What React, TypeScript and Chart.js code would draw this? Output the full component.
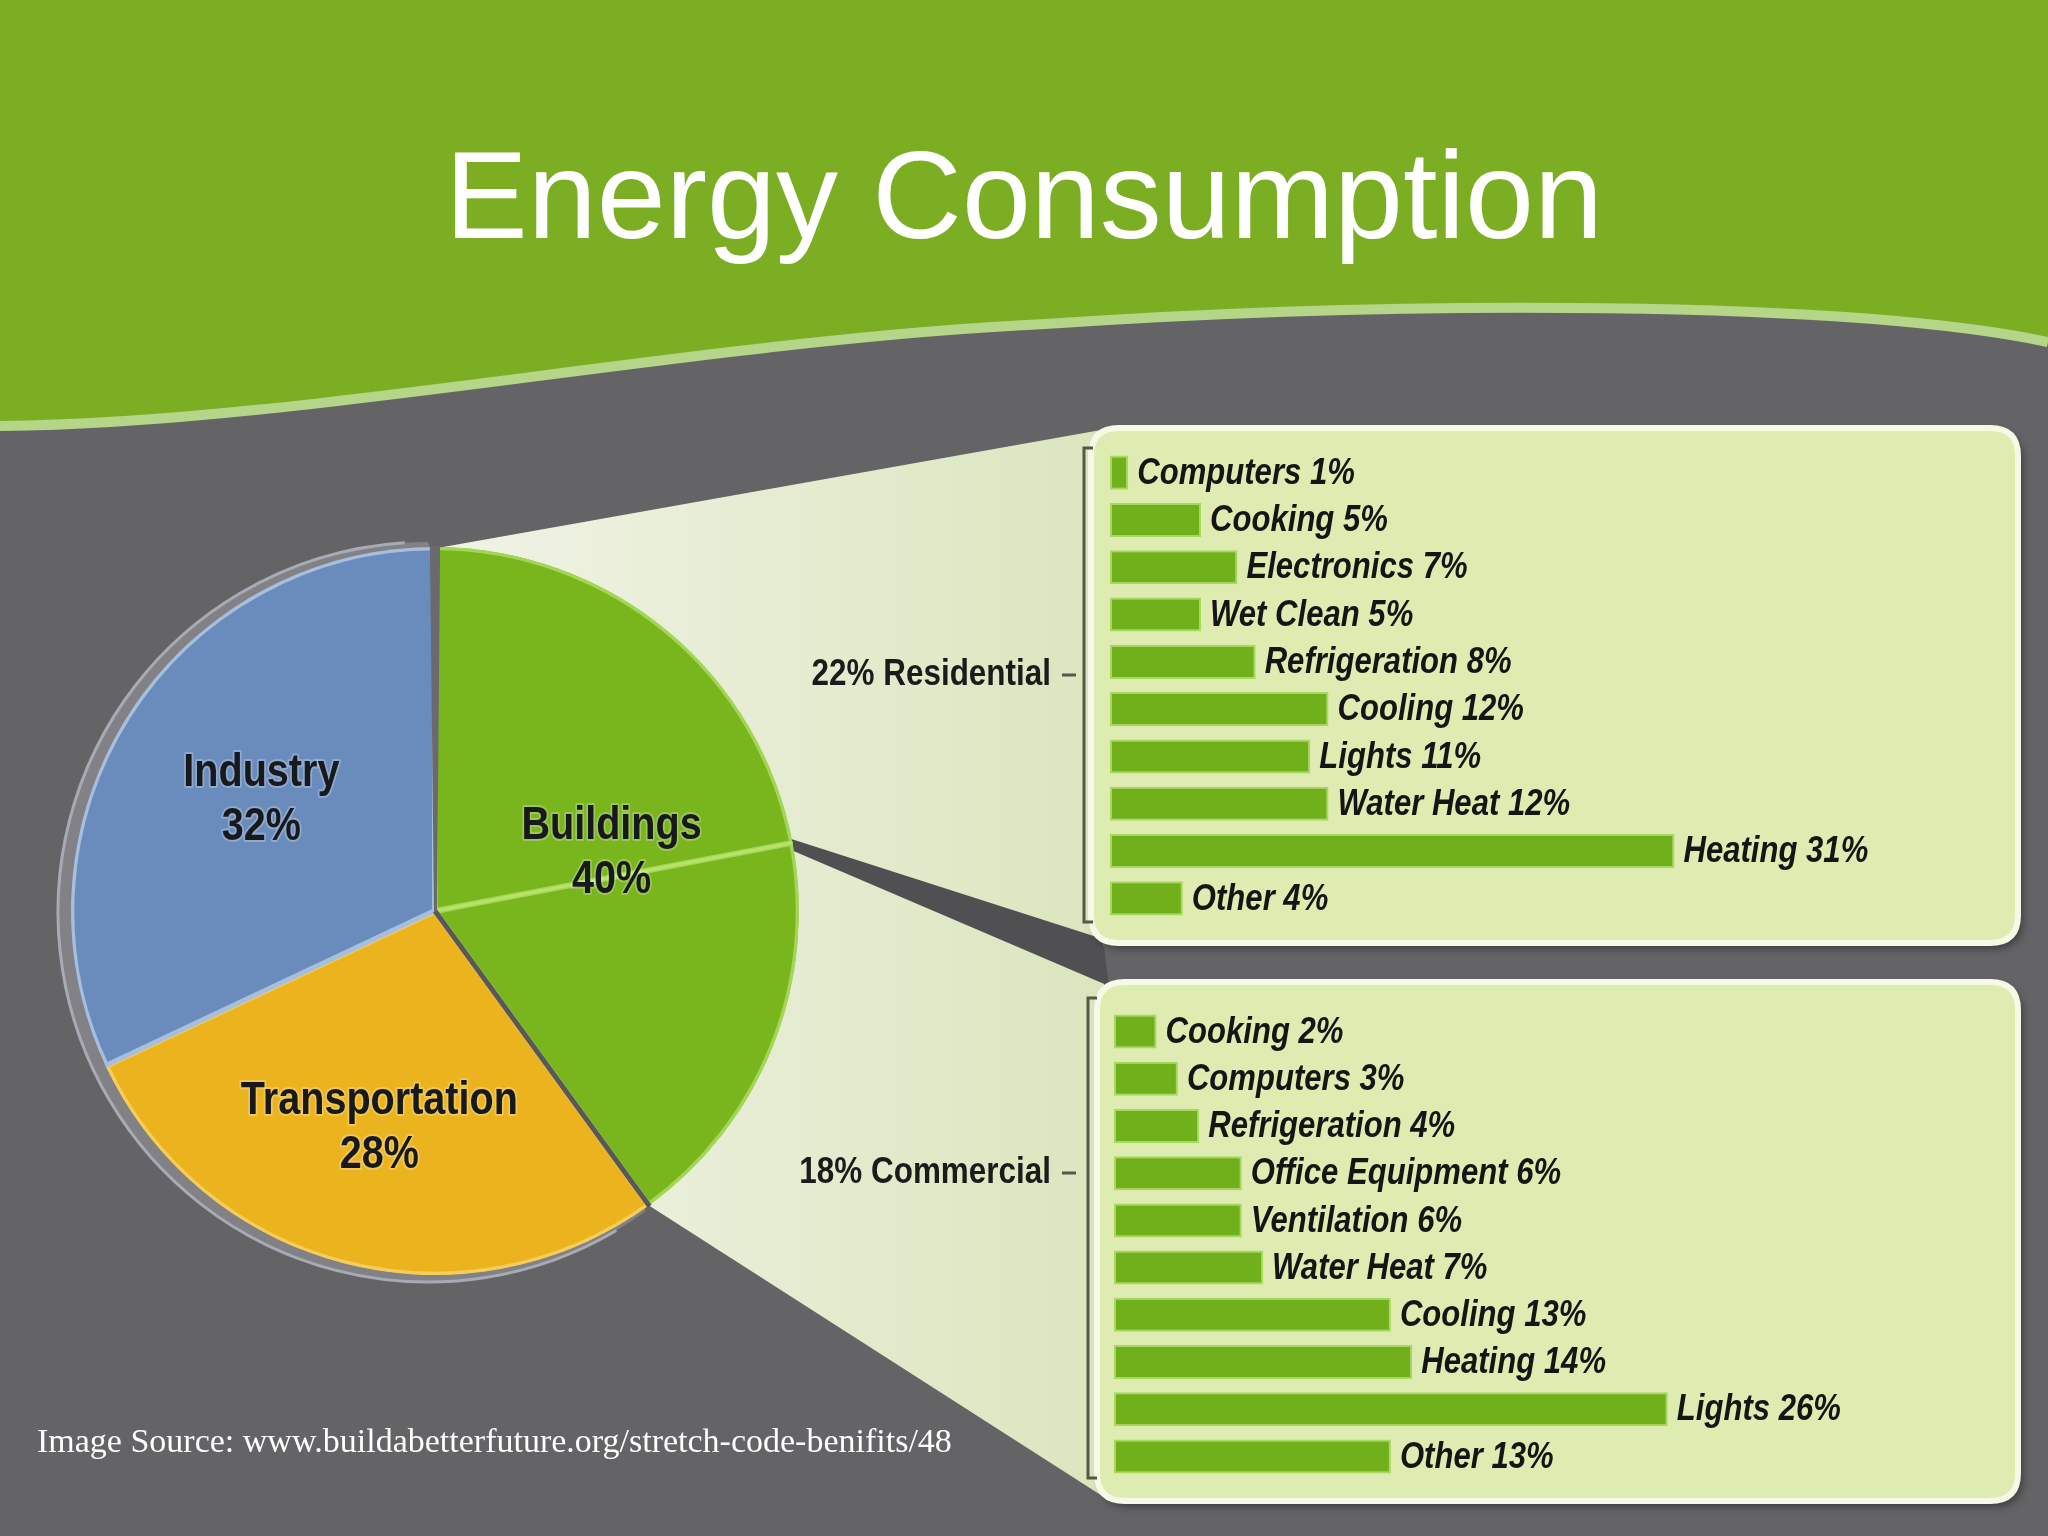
import React, { useEffect, useRef } from 'react';
import { Chart, registerables } from 'chart.js';

Chart.register(...registerables);

// ---------- data ----------
const titleText = 'Energy Consumption';
const sourceText = 'Image Source: www.buildabetterfuture.org/stretch-code-benifits/48';

// pie slices (Buildings is split into Residential + Commercial)
const pieSlices = ['Residential', 'Commercial', 'Transportation', 'Industry'];
const pieValues = [22, 18, 28, 32];
const pieGroupNames = ['Buildings', 'Transportation', 'Industry'];
const pieGroupMembers = [[0, 1], [2], [3]];

const residentialCategories = ['Computers', 'Cooking', 'Electronics', 'Wet Clean', 'Refrigeration', 'Cooling', 'Lights', 'Water Heat', 'Heating', 'Other'];
const residentialValues = [1, 5, 7, 5, 8, 12, 11, 12, 31, 4];

const commercialCategories = ['Cooking', 'Computers', 'Refrigeration', 'Office Equipment', 'Ventilation', 'Water Heat', 'Cooling', 'Heating', 'Lights', 'Other'];
const commercialValues = [2, 3, 4, 6, 6, 7, 13, 14, 26, 13];

const groupLabels = ['22% Residential', '18% Commercial'];

// ---------- layout / style ----------
const W = 2048;
const H = 1536;
const PIE_CX = 435;
const PIE_CY = 911;
const PIE_R = 364;

const RES_BOX = { left: 1110, top: 449, width: 874, height: 473, max: 48 };
const COM_BOX = { left: 1114, top: 1008, width: 852, height: 472, max: 40 };

const PANEL_TOP = { x: 1091, y: 428, w: 927, h: 515 };
const PANEL_BOTTOM = { x: 1097, y: 982, w: 921, h: 519 };

const C_GRAY = '#646467';
const C_HEADER = '#7cae23';
const C_PANEL = '#deebb1';
const C_BAR = '#70b01b';
const SANS = "'Liberation Sans', Arial, Helvetica, sans-serif";
const SERIF = "'Liberation Serif', 'Times New Roman', serif";

function drawText(
  ctx: CanvasRenderingContext2D,
  text: string,
  x: number,
  y: number,
  font: string,
  color: string,
  sx: number,
  align: CanvasTextAlign,
  halo?: string
) {
  ctx.save();
  ctx.translate(x, y);
  ctx.scale(sx, 1);
  ctx.font = font;
  ctx.textAlign = align;
  ctx.textBaseline = 'middle';
  if (halo) {
    ctx.strokeStyle = halo;
    ctx.lineWidth = 4;
    ctx.lineJoin = 'round';
    ctx.strokeText(text, 0, 0);
  }
  ctx.fillStyle = color;
  ctx.fillText(text, 0, 0);
  ctx.restore();
}

function roundRectPath(ctx: CanvasRenderingContext2D, x: number, y: number, w: number, h: number, r: number) {
  ctx.beginPath();
  ctx.moveTo(x + r, y);
  ctx.lineTo(x + w - r, y);
  ctx.quadraticCurveTo(x + w, y, x + w, y + r);
  ctx.lineTo(x + w, y + h - r);
  ctx.quadraticCurveTo(x + w, y + h, x + w - r, y + h);
  ctx.lineTo(x + r, y + h);
  ctx.quadraticCurveTo(x, y + h, x, y + h - r);
  ctx.lineTo(x, y + r);
  ctx.quadraticCurveTo(x, y, x + r, y);
  ctx.closePath();
}

function rim(cx: number, cy: number, r: number, a: number) {
  return { x: cx + Math.cos(a) * r, y: cy + Math.sin(a) * r };
}

function wavePath(c: CanvasRenderingContext2D) {
  c.lineTo(0, 426);
  c.bezierCurveTo(300, 424, 700, 340, 1045, 324);
  c.bezierCurveTo(1400, 300, 1850, 300, 2048, 342);
}

const scenePlugin = {
  id: 'scene',
  beforeDatasetsDraw(chart: any) {
    const ctx: CanvasRenderingContext2D = chart.ctx;
    const arcs = chart.getDatasetMeta(0).data as any[];
    const cx = arcs[0].x;
    const cy = arcs[0].y;
    const r = arcs[0].outerRadius;

    ctx.save();
    // gray background
    ctx.fillStyle = C_GRAY;
    ctx.fillRect(0, 0, W, H);

    // green header with wave
    ctx.beginPath();
    ctx.moveTo(2048, 0);
    ctx.lineTo(0, 0);
    wavePath(ctx);
    ctx.closePath();
    ctx.fillStyle = C_HEADER;
    ctx.fill();
    ctx.beginPath();
    ctx.moveTo(0, 426);
    wavePath(ctx);
    ctx.strokeStyle = '#b5d688';
    ctx.lineWidth = 10;
    ctx.stroke();

    // title
    ctx.font = `124px ${SANS}`;
    ctx.fillStyle = '#ffffff';
    ctx.textAlign = 'center';
    ctx.textBaseline = 'alphabetic';
    ctx.fillText(titleText, 1024, 238);

    // zoom wedge (light area from Buildings slice to panels)
    const top = rim(cx, cy, r, arcs[0].startAngle);
    const bot = rim(cx, cy, r, arcs[1].endAngle);
    const grad = ctx.createLinearGradient(top.x, 0, PANEL_TOP.x, 0);
    grad.addColorStop(0, '#f1f3e6');
    grad.addColorStop(1, '#dbe6bf');
    ctx.beginPath();
    ctx.moveTo(cx, cy);
    ctx.lineTo(top.x + 8, top.y);
    ctx.lineTo(PANEL_TOP.x + 10, PANEL_TOP.y + 2);
    ctx.lineTo(PANEL_BOTTOM.x + 10, PANEL_BOTTOM.y + PANEL_BOTTOM.h - 2);
    ctx.lineTo(bot.x, bot.y);
    ctx.closePath();
    ctx.fillStyle = grad;
    ctx.fill();

    // dark band from Residential/Commercial split to the gap between panels
    const split = rim(cx, cy, r, arcs[0].endAngle);
    ctx.beginPath();
    ctx.moveTo(split.x - 2, split.y - 4);
    ctx.lineTo(PANEL_TOP.x + 12, PANEL_TOP.y + PANEL_TOP.h - 4);
    ctx.lineTo(PANEL_BOTTOM.x + 12, PANEL_BOTTOM.y + 4);
    ctx.lineTo(split.x - 2, split.y + 7);
    ctx.closePath();
    ctx.fillStyle = '#505052';
    ctx.fill();

    // panels
    [PANEL_TOP, PANEL_BOTTOM].forEach((p) => {
      ctx.save();
      ctx.shadowColor = 'rgba(0,0,0,0.45)';
      ctx.shadowBlur = 10;
      ctx.shadowOffsetX = 4;
      ctx.shadowOffsetY = 5;
      roundRectPath(ctx, p.x, p.y, p.w, p.h, 28);
      ctx.fillStyle = C_PANEL;
      ctx.fill();
      ctx.restore();
      roundRectPath(ctx, p.x, p.y, p.w, p.h, 28);
      ctx.strokeStyle = '#f6f9e6';
      ctx.lineWidth = 6;
      ctx.stroke();
    });

    // group labels + brackets
    const groups = [
      { label: groupLabels[0], ly: 675, bx: 1084, y0: 448, y1: 922 },
      { label: groupLabels[1], ly: 1173, bx: 1088, y0: 998, y1: 1478 },
    ];
    groups.forEach((g) => {
      drawText(ctx, g.label, 1051, g.ly, `bold 37px ${SANS}`, '#1b1b1b', 0.85, 'right');
      ctx.strokeStyle = '#55574a';
      ctx.lineWidth = 3;
      ctx.beginPath();
      ctx.moveTo(1062, g.ly);
      ctx.lineTo(1076, g.ly);
      ctx.moveTo(g.bx + 9, g.y0);
      ctx.lineTo(g.bx, g.y0);
      ctx.lineTo(g.bx, g.y1);
      ctx.lineTo(g.bx + 9, g.y1);
      ctx.stroke();
    });

    // source
    ctx.font = `34px ${SERIF}`;
    ctx.fillStyle = '#ffffff';
    ctx.textAlign = 'left';
    ctx.textBaseline = 'alphabetic';
    ctx.fillText(sourceText, 37, 1452);

    // pie rim (3D edge on the left, tapering toward the right)
    ctx.beginPath();
    ctx.arc(cx - 7, cy + 1, r + 6, Math.PI * 0.3, Math.PI * 1.5);
    ctx.closePath();
    ctx.fillStyle = '#818186';
    ctx.fill();
    ctx.beginPath();
    ctx.arc(cx - 7, cy + 1, r + 6, Math.PI * 0.33, Math.PI * 1.48);
    ctx.strokeStyle = '#a9abb4';
    ctx.lineWidth = 3;
    ctx.stroke();
    ctx.restore();
  },
  afterDatasetsDraw(chart: any) {
    const ctx: CanvasRenderingContext2D = chart.ctx;
    const arcs = chart.getDatasetMeta(0).data as any[];
    const cx = arcs[0].x;
    const cy = arcs[0].y;
    const r = arcs[0].outerRadius;

    const line = (a: number, color: string, width: number, ext: number) => {
      const p = rim(cx, cy, r + ext, a);
      ctx.beginPath();
      ctx.moveTo(cx, cy);
      ctx.lineTo(p.x, p.y);
      ctx.strokeStyle = color;
      ctx.lineWidth = width;
      ctx.stroke();
    };
    ctx.save();
    ctx.lineCap = 'butt';
    line(arcs[0].endAngle, '#b8e36a', 3, 0); // residential | commercial
    line(arcs[3].startAngle, '#a7bedc', 4, 0); // transportation | industry
    line(arcs[1].endAngle, '#58585a', 5, 1); // buildings | transportation
    // gap between industry and buildings (wider at the rim)
    const a = arcs[0].startAngle;
    const p1 = rim(cx, cy, r + 1, a - 0.014);
    const p2 = rim(cx, cy, r + 1, a + 0.014);
    ctx.beginPath();
    ctx.moveTo(cx - 1, cy);
    ctx.lineTo(p1.x, p1.y);
    ctx.lineTo(p2.x, p2.y);
    ctx.lineTo(cx + 2, cy);
    ctx.closePath();
    ctx.fillStyle = '#6a6a6e';
    ctx.fill();

    const fracs = [0.51, 0.615, 0.565];
    pieGroupMembers.forEach((members, gi) => {
      const first = arcs[members[0]];
      const last = arcs[members[members.length - 1]];
      const mid = (first.startAngle + last.endAngle) / 2;
      const d = r * fracs[gi];
      const lx = cx + Math.cos(mid) * d;
      const ly = cy + Math.sin(mid) * d;
      const total = members.reduce((s, m) => s + pieValues[m], 0);
      const font = `bold 46px ${SANS}`;
      drawText(ctx, pieGroupNames[gi], lx, ly - 27, font, '#18191c', 0.86, 'center', 'rgba(255,255,255,0.25)');
      drawText(ctx, `${total}%`, lx, ly + 27, font, '#18191c', 0.86, 'center', 'rgba(255,255,255,0.25)');
    });
    ctx.restore();
  },
};

const barLabelPlugin = {
  id: 'barLabels',
  afterDatasetsDraw(chart: any) {
    const ctx: CanvasRenderingContext2D = chart.ctx;
    const meta = chart.getDatasetMeta(0);
    const labels = chart.data.labels as string[];
    const vals = chart.data.datasets[0].data as number[];
    meta.data.forEach((bar: any, i: number) => {
      drawText(ctx, `${labels[i]} ${vals[i]}%`, bar.x + 9, bar.y + 1, `italic bold 37px ${SANS}`, '#151515', 0.84, 'left');
    });
  },
};

function makeBar(canvas: HTMLCanvasElement, cats: string[], vals: number[], max: number) {
  return new Chart(canvas, {
    type: 'bar',
    data: {
      labels: cats,
      datasets: [
        {
          data: vals,
          backgroundColor: C_BAR,
          borderColor: '#a9d862',
          borderWidth: 2,
          borderSkipped: false,
          categoryPercentage: 1,
          barPercentage: 0.72,
        },
      ],
    },
    options: {
      indexAxis: 'y',
      responsive: false,
      animation: false,
      events: [],
      layout: { padding: 0 },
      scales: {
        x: { display: false, min: 0, max },
        y: { display: false },
      },
      plugins: { legend: { display: false }, tooltip: { enabled: false } },
    },
    plugins: [barLabelPlugin],
  } as any);
}

export default function App() {
  const pieRef = useRef<HTMLCanvasElement>(null);
  const resRef = useRef<HTMLCanvasElement>(null);
  const comRef = useRef<HTMLCanvasElement>(null);

  useEffect(() => {
    document.body.style.margin = '0';
    document.body.style.overflow = 'hidden';
    const charts: Chart[] = [];
    charts.push(
      new Chart(pieRef.current!, {
        type: 'pie',
        data: {
          labels: pieSlices,
          datasets: [
            {
              data: pieValues,
              backgroundColor: ['#79b51c', '#79b51c', '#ebb41f', '#6a8cbd'],
              borderColor: ['#a3d556', '#a3d556', '#f4cd5a', '#a7bedc'],
              borderWidth: 3,
              borderAlign: 'inner',
              hoverOffset: 0,
            },
          ],
        },
        options: {
          responsive: false,
          animation: false,
          events: [],
          rotation: 0,
          layout: {
            padding: {
              left: PIE_CX - PIE_R,
              top: PIE_CY - PIE_R,
              right: W - (PIE_CX + PIE_R),
              bottom: H - (PIE_CY + PIE_R),
            },
          },
          plugins: { legend: { display: false }, tooltip: { enabled: false } },
        },
        plugins: [scenePlugin],
      } as any)
    );
    charts.push(makeBar(resRef.current!, residentialCategories, residentialValues, RES_BOX.max));
    charts.push(makeBar(comRef.current!, commercialCategories, commercialValues, COM_BOX.max));
    return () => charts.forEach((c) => c.destroy());
  }, []);

  const abs = (b: { left: number; top: number; width: number; height: number }): React.CSSProperties => ({
    position: 'absolute',
    left: b.left,
    top: b.top,
    width: b.width,
    height: b.height,
  });

  return (
    <div style={{ position: 'absolute', left: 0, top: 0, width: W, height: H, overflow: 'hidden' }}>
      <canvas ref={pieRef} width={W} height={H} style={abs({ left: 0, top: 0, width: W, height: H })} />
      <canvas ref={resRef} width={RES_BOX.width} height={RES_BOX.height} style={abs(RES_BOX)} />
      <canvas ref={comRef} width={COM_BOX.width} height={COM_BOX.height} style={abs(COM_BOX)} />
    </div>
  );
}
